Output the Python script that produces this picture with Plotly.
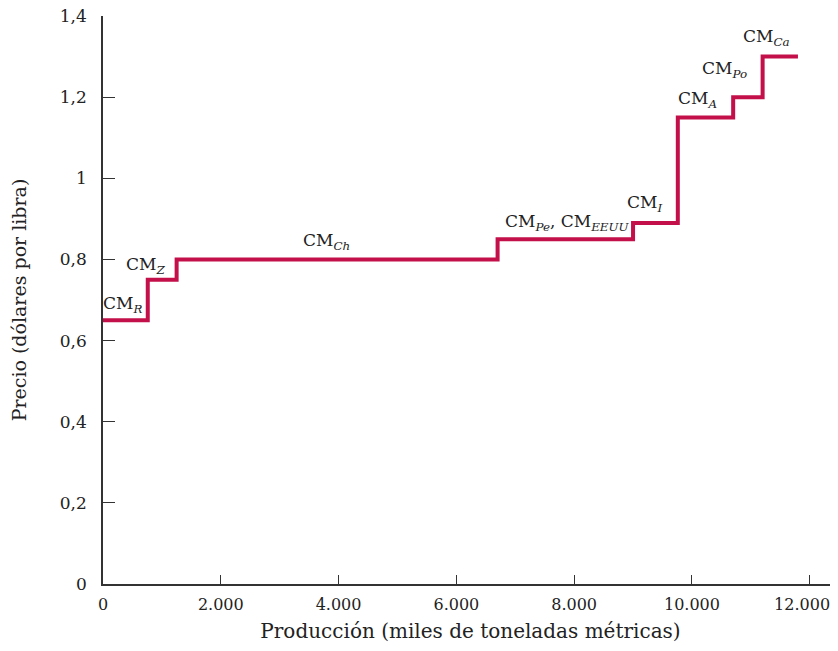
import plotly.graph_objects as go

# Step supply curve data (production in thousand metric tons, price in $/lb)
step_x = [0, 760, 1250, 6700, 9000, 9760, 10700, 11200, 11800]
step_price = [0.65, 0.75, 0.80, 0.85, 0.89, 1.15, 1.20, 1.30, 1.30]

label_text = ["CM<sub><i>R</i></sub>", "CM<sub><i>Z</i></sub>", "CM<sub><i>Ch</i></sub>",
              "CM<sub><i>Pe</i></sub>, CM<sub><i>EEUU</i></sub>", "CM<sub><i>I</i></sub>",
              "CM<sub><i>A</i></sub>", "CM<sub><i>Po</i></sub>", "CM<sub><i>Ca</i></sub>"]
label_x = [330, 730, 3800, 7880, 9200, 10090, 10560, 11260]
label_y = [0.688, 0.786, 0.845, 0.892, 0.939, 1.193, 1.267, 1.348]

x_tickvals = [0, 2000, 4000, 6000, 8000, 10000, 12000]
x_ticktext = ["0", "2.000", "4.000", "6.000", "8.000", "10.000", "12.000"]
y_tickvals = [0, 0.2, 0.4, 0.6, 0.8, 1.0, 1.2, 1.4]
y_ticktext = ["0", "0,2", "0,4", "0,6", "0,8", "1", "1,2", "1,4"]

RED = "#C4104A"
FONT = "DejaVu Serif"

# pad the last x label so it is not clipped at the right window edge
x_ticktext_drawn = x_ticktext[:-1] + [x_ticktext[-1] + "&nbsp;" * 3]

fig = go.Figure()
fig.add_trace(go.Scatter(x=step_x, y=step_price, mode="lines",
                         line=dict(color=RED, width=4, shape="hv"),
                         hoverinfo="skip", showlegend=False))

for t, x, y in zip(label_text, label_x, label_y):
    fig.add_annotation(x=x, y=y, xref="x", yref="y", text=t, showarrow=False,
                       font=dict(family=FONT, size=17, color="#222"))

# page body has an 8px default margin; plot edges placed to match the window
fig.update_layout(
    width=838, height=635,
    margin=dict(l=95, r=8, t=8, b=59),
    paper_bgcolor="white", plot_bgcolor="white",
    font=dict(family=FONT, size=17, color="#222"),
    showlegend=False,
)
fig.update_xaxes(range=[0, 12480], tickvals=x_tickvals, ticktext=x_ticktext_drawn,
                 ticks="inside", ticklen=9, tickcolor="#333", tickwidth=1,
                 showline=True, linecolor="#333", linewidth=1.5, showgrid=False,
                 zeroline=False, tickfont=dict(size=16), automargin=False,
                 ticklabelstandoff=5, ticklabeloverflow="allow",
                 title=dict(text="Producción (miles de toneladas métricas)",
                            font=dict(size=20), standoff=11))
fig.update_yaxes(range=[0, 1.4], tickvals=y_tickvals, ticktext=y_ticktext,
                 ticks="inside", ticklen=12, tickcolor="#333", tickwidth=1,
                 showline=True, linecolor="#333", linewidth=1.5, showgrid=False,
                 zeroline=False, tickfont=dict(size=17), ticklabelstandoff=11,
                 automargin=False, ticklabeloverflow="allow",
                 title=dict(text="Precio (dólares por libra)",
                            font=dict(size=19), standoff=38))

fig.write_html("out.html")
